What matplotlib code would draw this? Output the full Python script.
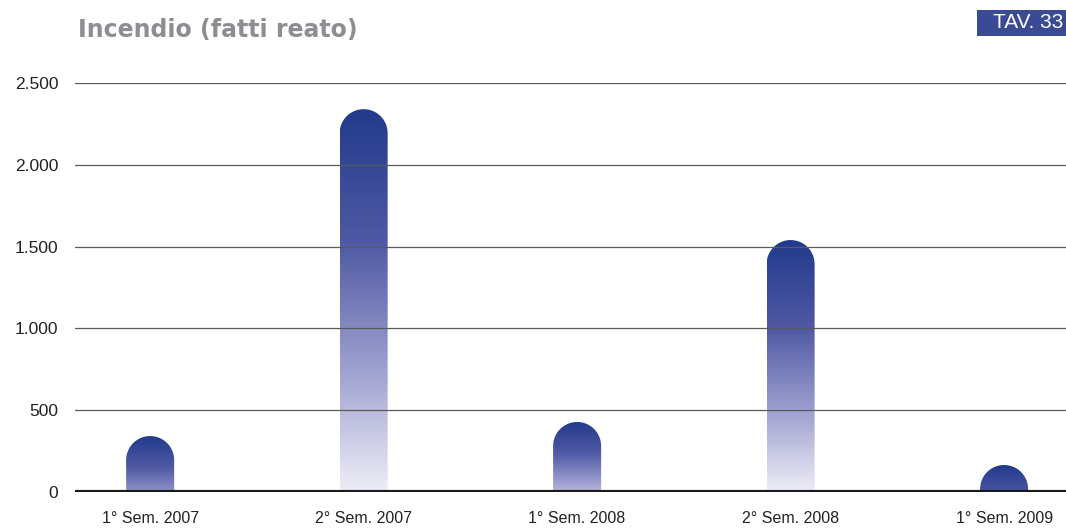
import numpy as np
import matplotlib
matplotlib.use("Agg")
import matplotlib.pyplot as plt
from matplotlib.path import Path
from matplotlib.patches import PathPatch
from matplotlib.colors import LinearSegmentedColormap

categories = ["1° Sem. 2007", "2° Sem. 2007", "1° Sem. 2008", "2° Sem. 2008", "1° Sem. 2009"]
values = [342, 2340, 428, 1540, 165]
yticks = [0, 500, 1000, 1500, 2000, 2500]
ytick_labels = ["0", "500", "1.000", "1.500", "2.000", "2.500"]

plt.rcParams['font.family'] = ['Liberation Sans', 'DejaVu Sans']

fig = plt.figure(figsize=(10.66, 5.28), dpi=100)
ax = fig.add_axes([75/1066, 1-492/528, 1-75/1066, (492-83)/528])
ax.set_xlim(-0.352, 4.29)
ax.set_ylim(0, 2500)

cmap = LinearSegmentedColormap.from_list(
    "g", [(0.0, "#223a8c"), (0.35, "#5059a4"), (0.7, "#a3a5d2"), (1.0, "#eeeef7")])

width = 0.225
fig.canvas.draw()
p0 = ax.transData.transform((0, 0))
p1 = ax.transData.transform((1, 1))
px_x = p1[0] - p0[0]
px_y = p1[1] - p0[1]
r_px = width / 2 * px_x
ry = r_px / px_y

for i, h in enumerate(values):
    x0, x1 = i - width / 2, i + width / 2
    cx = i
    base = h - ry
    verts = [(x0, 0), (x1, 0), (x1, base)]
    codes = [Path.MOVETO, Path.LINETO, Path.LINETO]
    th = np.linspace(0, np.pi, 60)
    for t in th[1:]:
        verts.append((cx + width / 2 * np.cos(t), base + ry * np.sin(t)))
        codes.append(Path.LINETO)
    verts.append((x0, 0))
    codes.append(Path.CLOSEPOLY)
    path = Path(verts, codes)
    patch = PathPatch(path, facecolor="none", edgecolor="none")
    ax.add_patch(patch)
    sref = max(h, 550)
    vv = np.linspace(h, 0, 256)
    s = (h - vv) / sref
    img = cmap(s)[:, None, :]
    im = ax.imshow(img, extent=[x0, x1, 0, h], origin="upper", aspect="auto",
                   interpolation="bilinear", zorder=2)
    im.set_clip_path(patch)

ax.set_xlim(-0.352, 4.29)
ax.set_ylim(0, 2500)

for y in yticks[1:]:
    ax.axhline(y, color="#5a5a5a", lw=0.9, zorder=3)
ax.axhline(0, color="#1a1a1a", lw=3.0, zorder=4)

for sp in ax.spines.values():
    sp.set_visible(False)
ax.set_yticks(yticks)
ax.set_yticklabels(ytick_labels, fontsize=12.5, color="#222222")
ax.set_xticks(range(len(categories)))
ax.set_xticklabels(categories, fontsize=11.5, color="#222222")
ax.tick_params(axis="both", length=0)
ax.tick_params(axis="y", pad=12)
ax.tick_params(axis="x", pad=14)

fig.text(78/1066, 1-30/528, "Incendio (fatti reato)", fontsize=17, fontweight="bold",
         color="#8d8d92", va="center", ha="left", family="DejaVu Sans")
fig.patches.append(plt.Rectangle((977/1066, 1-36/528), 89/1066, 26/528,
                                 transform=fig.transFigure, facecolor="#3b4a95",
                                 edgecolor="none"))
fig.text(1063/1066, 1-23/528, "TAV. 33", fontsize=15, color="white", va="center", ha="right")

fig.savefig("out.png", dpi=100)
